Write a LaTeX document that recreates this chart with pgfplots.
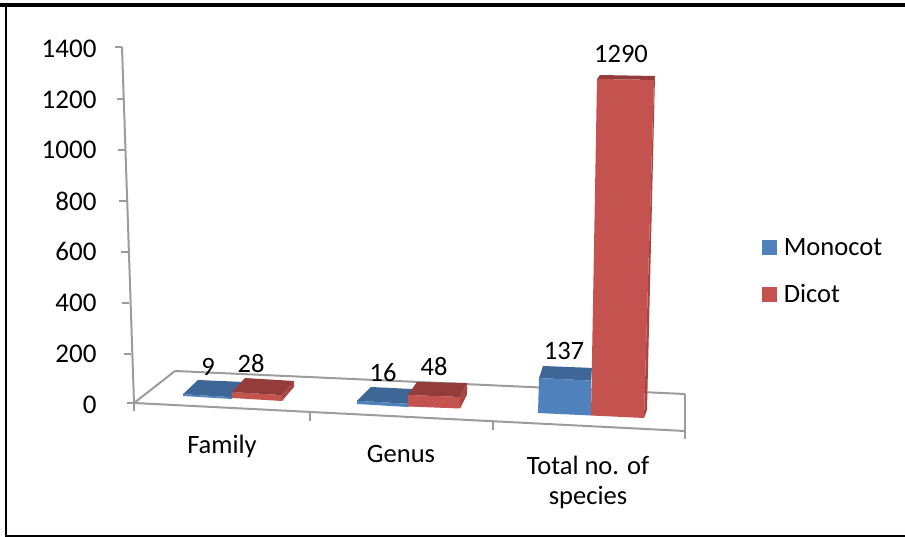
\documentclass[border=0pt]{standalone}
\usepackage{pgfplots}
\pgfplotsset{compat=1.18}
\usepackage{fontspec}
\setmainfont{Carlito}
\definecolor{blueF}{HTML}{4F81BD}
\definecolor{blueT}{HTML}{3E6696}
\definecolor{redF}{HTML}{C4524F}
\definecolor{redT}{HTML}{943C3A}
\definecolor{redS}{HTML}{A84442}
\definecolor{gridc}{HTML}{9C9C9C}
\newcommand{\poly}[2]{\addplot[fill=#1,draw=none,forget plot] table[row sep=\\,pix] {px py v k\\ #2 };}
\newcommand{\seg}[5][gridc]{\addplot[draw=#1,line width=2pt,forget plot] table[row sep=\\,pix] {px py v k\\ #2 #3 0 0\\ #4 #5 0 0\\};}
\pgfplotsset{table/pix/.style={x=px,y expr={(403-\thisrow{py}+\thisrow{v}*\thisrow{k})/0.25429}}}
\begin{document}
\begin{tikzpicture}
\useasboundingbox (0,0) rectangle (905pt,537pt);
\begin{axis}[
  at={(105pt,0pt)},anchor=south west,
  scale only axis,width=800pt,height=537pt,
  xmin=105,xmax=905,ymin=-526.96,ymax=1584.8,
  clip=false,
  axis line style={draw=none},
  xtick=\empty,
  ytick={0,200,400,600,800,1000,1200,1400},
  tick style={draw=none},
  /pgf/number format/1000 sep={},
  /pgf/number format/assume math mode=true,
  tick label style={font=\fontsize{27}{32}\selectfont},
  yticklabel style={xshift=-5pt,yshift=-1.5pt},
  legend style={at={(0.817,0.495)},anchor=west,draw=none,fill=none,
    font=\fontsize{26.5}{31}\selectfont,row sep=24pt,
    /tikz/every odd column/.append style={column sep=6pt}},
  legend cell align=left,
]
% frame
\addplot[draw=black,line width=2.6pt,forget plot] table[row sep=\\,pix] {px py v k\\ 6 5 0 0\\ 6 536 0 0\\ 905 536 0 0\\};
\addplot[draw=black,line width=4pt,forget plot] table[row sep=\\,pix] {px py v k\\ 0 5 0 0\\ 905 5 0 0\\};
% axis walls and floor
\seg{122}{47}{134}{403}
\seg{115}{47}{122}{47}
\seg{117}{99}{124}{99}
\seg{118}{150}{125}{150}
\seg{119}{201}{126}{201}
\seg{121}{252}{128}{252}
\seg{122}{303}{129}{303}
\seg{124}{354}{131}{354}
\seg{127}{403}{134}{403}
\seg{134}{403}{175}{371}
\seg{175}{371}{685}{394}
\seg{685}{394}{685}{431}
\seg{134}{403}{685}{431}
\seg{134}{403}{134}{411}
\seg{310}{412}{310}{421}
\seg{493}{422}{493}{430}
\seg{685}{431}{685}{439}
% Family
\poly{blueF}{183 396 0 0\\ 232 399 0 0\\ 232 399 9 0.2\\ 183 396 9 0.2\\}
\poly{blueT}{183 396 9 0.2\\ 198 381.8 9 0.2\\ 244 383.8 9 0.2\\ 232 399 9 0.2\\}
\poly{redF}{232 398 0 0\\ 282 401 0 0\\ 282 401 28 0.21\\ 232 398 28 0.21\\}
\poly{redT}{232 398 28 0.21\\ 245 383.9 28 0.21\\ 294 386.9 28 0.21\\ 282 401 28 0.21\\}
\poly{redS}{282 401 0 0\\ 294 386.9 0 0\\ 294 386.9 28 0.21\\ 282 401 28 0.21\\}
% Genus
\poly{blueF}{357 404 0 0\\ 408 407 0 0\\ 408 407 16 0.2\\ 357 404 16 0.2\\}
\poly{blueT}{357 404 16 0.2\\ 371 390.2 16 0.2\\ 412 392.2 16 0.2\\ 408 407 16 0.2\\}
\poly{redF}{408 406.5 0 0\\ 460 408.5 0 0\\ 460 408.5 48 0.24\\ 408 406.5 48 0.24\\}
\poly{redT}{408 406.5 48 0.24\\ 417 393.5 48 0.24\\ 467 394.5 48 0.24\\ 460 408.5 48 0.24\\}
\poly{redS}{460 408.5 0 0\\ 467 394.5 0 0\\ 467 394.5 48 0.24\\ 460 408.5 48 0.24\\}
% Total
\poly{blueT}{539 413 137 0.255\\ 543 400.9 137 0.255\\ 592 402.9 137 0.255\\ 591 415.5 137 0.255\\}
\poly{blueF}{538 413 0 0\\ 591 415.5 0 0\\ 591 415.5 137 0.255\\ 539 413 137 0.255\\}
\poly{redS}{644 418 0 0\\ 654 418 1290 0.262\\ 655 412.7 1290 0.261\\ 647 410 0 0\\}
\poly{redT}{597 415.5 1290 0.2609\\ 600 411.7 1290 0.261\\ 655 412.7 1290 0.261\\ 654 418 1290 0.262\\}
\poly{redF}{591 415.5 0 0\\ 644 418 0 0\\ 654 418 1290 0.262\\ 597 415.5 1290 0.2609\\}
% data labels
\addplot[only marks,mark=none,forget plot,point meta=explicit,
  nodes near coords,
  nodes near coords style={anchor=center,inner sep=0pt,text=black,font=\fontsize{26.5}{31}\selectfont}]
  table[row sep=\\,pix,meta=v] {px py v k\\
  208 367 9 0\\ 251 364 28 0\\ 383 373 16 0\\ 434 367 48 0\\ 564 351 137 0\\ 621 54 1290 0\\};
% category labels
\node[font=\fontsize{26.5}{31}\selectfont] at (axis cs:222,{(403-446)/0.25429}) {Family};
\node[font=\fontsize{26.5}{31}\selectfont] at (axis cs:401,{(403-454)/0.25429}) {Genus};
\node[font=\fontsize{26.5}{31}\selectfont,align=center] at (axis cs:588,{(403-482)/0.25429}) {Total no. of\\[-1pt] species};
% legend
\addlegendimage{only marks,mark=square*,mark size=7pt,color=blueF}
\addlegendentry{Monocot}
\addlegendimage{only marks,mark=square*,mark size=7pt,color=redF}
\addlegendentry{Dicot}
\end{axis}
\end{tikzpicture}
\end{document}
